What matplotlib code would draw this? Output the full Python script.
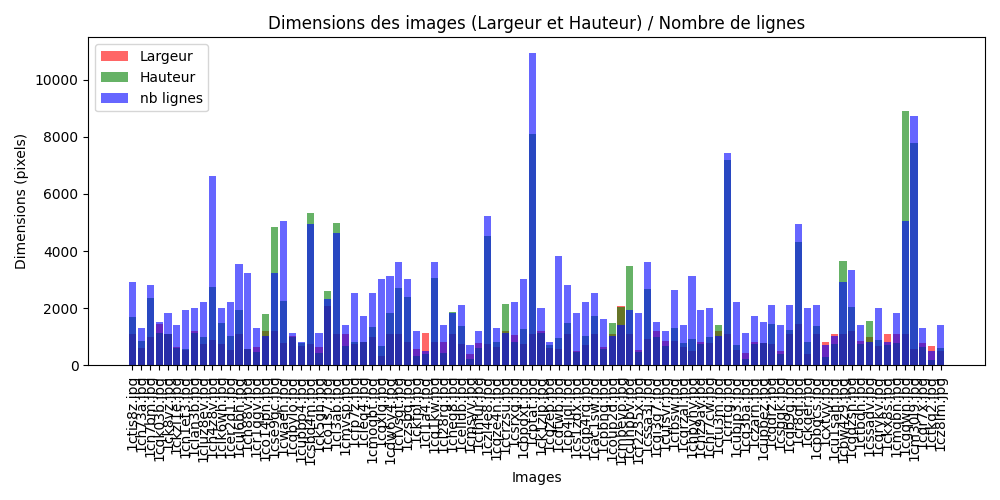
import matplotlib
matplotlib.use("Agg")
import matplotlib.pyplot as plt

images = [
    "1ctis8z.jpg", "1ch73a.jpg", "1cn7bm.jpg", "1cqk03b.jpg", "1ck8vz.jpg",
    "1ckzi1e.jpg", "1cn1et3.jpg", "1clan3b.jpg", "1cluz8ev.jpg", "1ch4z8v.jpg",
    "1clk6wh.jpg", "1cer2d1.jpg", "1cul6bh.jpg", "1ch88v.jpg", "1cr1qgv.jpg",
    "1co14pn.jpg", "1cse9gc.jpg", "1cwaeh.jpg", "1cqbylo.jpg", "1cupbp4.jpg",
    "1csbd4m.jpg", "1ck5gh.jpg", "1co1s7.jpg", "1cl3ab.jpg", "1cmvsp.jpg",
    "1cfp7z.jpg", "1cleq4.jpg", "1cmoqbt.jpg", "1cqxlq.jpg", "1cdw6y4.jpg",
    "1cfvsgt.jpg", "1czsbq.jpg", "1ckfpl.jpg", "1cl1a4.jpg", "1cq1kw.jpg",
    "1cl28rg.jpg", "1cheg8.jpg", "1cellub.jpg", "1cmsyv.jpg", "1cfhfur.jpg",
    "1czl4e8.jpg", "1cqze4n.jpg", "1ccrzsu.jpg", "1csrxq.jpg", "1cbpdxt.jpg",
    "1cptat.jpg", "1ck1zip.jpg", "1cqzep.jpg", "1cdtwb.jpg", "1cp4jql.jpg",
    "1cs1zdx.jpg", "1cqp4rq.jpg", "1cac1sw.jpg", "1cpbng.jpg", "1coup2d.jpg",
    "1cmbevp.jpg", "1cunpbv.jpg", "1cf2z35x.jpg", "1cssa3j.jpg", "1cgi3g7.jpg",
    "1cufsvr.jpg", "1cfbsw.jpg", "1cqrzal.jpg", "1chpyhy.jpg", "1chz9ay.jpg",
    "1chr7cw.jpg", "1ctu3m.jpg", "1crrtg.jpg", "1cubjp3.jpg", "1cq3ba.jpg",
    "1czarn.jpg", "1cupbez.jpg", "1cqdrz.jpg", "1csgqk.jpg", "1cqb9g.jpg",
    "1cr8ql.jpg", "1ckqer.jpg", "1cpbqcs.jpg", "1cxtvy.jpg", "1cu1sah.jpg",
    "1cbw4z9.jpg", "1cgdzsn.jpg", "1ctbdh.jpg", "1cssadv.jpg", "1cqrykv.jpg",
    "1ckx8s.jpg", "1cmqbn.jpg", "1cgqwn.jpg", "1cm30l9.jpg", "1cqr7x.jpg",
    "1ctkq2.jpg", "1cz8lm.jpg",
]

largeur = [
    1084, 594, 979, 1434, 1084, 620, 524, 1190, 734, 874,
    734, 524, 1084, 559, 629, 1189, 1189, 769, 1014, 664,
    734, 629, 2063, 1084, 1084, 734, 804, 979, 315, 1084,
    1084, 804, 559, 1119, 804, 804, 1084, 734, 385, 769,
    734, 629, 1189, 1049, 734, 1084, 1189, 594, 559, 1084,
    490, 699, 1084, 629, 1084, 2063, 1084, 524, 909, 1189,
    839, 839, 629, 490, 804, 769, 1189, 1084, 524, 420,
    804, 769, 734, 490, 1084, 1434, 385, 1084, 804, 1084,
    1084, 1189, 839, 979, 664, 1084, 1084, 1084, 559, 769,
    664, 490,
]

hauteur = [
    1678, 839, 2343, 1119, 1080, 594, 555, 1119, 979, 2727,
    1469, 1014, 1923, 580, 455, 1783, 4825, 2238, 979, 769,
    5315, 420, 2587, 4965, 664, 804, 804, 1329, 664, 1818,
    2692, 2378, 315, 385, 3042, 420, 1853, 1364, 210, 594,
    4510, 804, 2133, 804, 1259, 8112, 1119, 699, 944, 1469,
    455, 1014, 1713, 559, 1469, 2050, 3462, 455, 2657, 979,
    664, 1294, 769, 909, 734, 979, 1399, 7203, 699, 210,
    734, 769, 1434, 385, 1224, 4301, 804, 1364, 280, 734,
    3636, 2028, 734, 1538, 874, 699, 769, 8916, 7797, 629,
    175, 594,
]

nb_lignes = [
    2902, 1294, 2797, 1503, 1818, 1399, 1923, 1993, 2203, 6643,
    1993, 2203, 3531, 3217, 1294, 1014, 3217, 5035, 1119, 804,
    4930, 1119, 2308, 4615, 1399, 2517, 1713, 2517, 3007, 3112,
    3601, 3007, 1189, 490, 3601, 1399, 1818, 2098, 699, 1189,
    5210, 1294, 1119, 2203, 3007, 10944, 1993, 804, 3811, 2797,
    1818, 2203, 2517, 1608, 1014, 1399, 1923, 1818, 3601, 1503,
    1189, 2622, 1399, 3112, 1923, 1993, 1014, 7448, 2203, 1119,
    1713, 1503, 2098, 1399, 2098, 4930, 1993, 2098, 699, 1014,
    2902, 3322, 1399, 804, 1993, 804, 1818, 5035, 8741, 1294,
    490, 1399,
]


def plot_dimensions():
    plt.figure(figsize=(10, 5), dpi=100)
    plt.bar(images, largeur, color="red", alpha=0.6, label="Largeur")
    plt.bar(images, hauteur, color="green", alpha=0.6, label="Hauteur")
    plt.bar(images, nb_lignes, color="blue", alpha=0.6, label="nb lignes")
    plt.xlabel("Images")
    plt.ylabel("Dimensions (pixels)")
    plt.title("Dimensions des images (Largeur et Hauteur) / Nombre de lignes")
    plt.xticks(rotation=90)
    plt.legend(loc="upper left")
    plt.tight_layout()
    plt.savefig("out.png")


if __name__ == "__main__":
    plot_dimensions()
